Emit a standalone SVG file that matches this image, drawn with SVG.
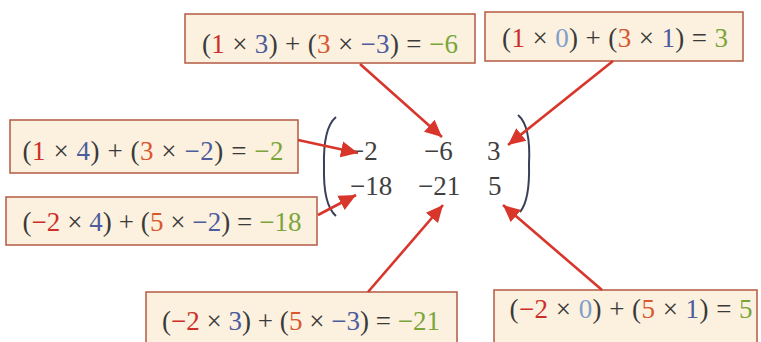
<svg xmlns="http://www.w3.org/2000/svg" width="761" height="342" viewBox="0 0 761 342">
<style>
.box{fill:#fcf1df;stroke:#b8634d;stroke-width:1.6}
.eq{font-family:"Liberation Serif","Times New Roman",serif;font-size:27px;fill:#3a3a3a;text-anchor:middle}
.m{font-family:"Liberation Serif","Times New Roman",serif;font-size:27px;fill:#404040}
.r{fill:#cc2f2a}
.b{fill:#4d5c9c}
.lb{fill:#7f9fcc}
.o{fill:#d9582f}
.g{fill:#7aa53a}
.br{fill:none;stroke:#3b405a;stroke-width:2}
.arr{stroke:#d8352b;stroke-width:2.6;fill:none;marker-end:url(#ah)}
</style>
<defs>
<marker id="ah" markerUnits="userSpaceOnUse" markerWidth="18" markerHeight="18" viewBox="0 0 18 18" refX="17" refY="9" orient="auto">
<path d="M0,1 L17,9 L0,17 Z" fill="#d8352b"/>
</marker>
</defs>
<rect width="761" height="342" fill="#ffffff"/>

<g id="matrix">
<path class="br" d="M336,117 Q323,128 324,166 Q323,205 336,216"/>
<path class="br" d="M518,115 Q531,126 529,164 Q530,200 520,212"/>
<text class="m" x="349" y="160">−2</text>
<text class="m" x="424" y="160">−6</text>
<text class="m" x="487" y="160">3</text>
<text class="m" x="350" y="195">−18</text>
<text class="m" x="418" y="195">−21</text>
<text class="m" x="488" y="195">5</text>
</g>

<g id="box-tm">
<rect class="box" x="185" y="14" width="290" height="49"/>
<text class="eq" x="330" y="53" textLength="256" lengthAdjust="spacing">(<tspan class="r">1</tspan> × <tspan class="b">3</tspan>) + (<tspan class="o">3</tspan> × <tspan class="b">−3</tspan>) = <tspan class="g">−6</tspan></text>
</g>

<g id="box-tr">
<rect class="box" x="485" y="12" width="258" height="49"/>
<text class="eq" x="615" y="47" textLength="226" lengthAdjust="spacing">(<tspan class="r">1</tspan> × <tspan class="lb">0</tspan>) + (<tspan class="o">3</tspan> × <tspan class="b">1</tspan>) = <tspan class="g">3</tspan></text>
</g>

<g id="box-ml">
<rect class="box" x="10" y="120" width="288" height="53"/>
<text class="eq" x="153" y="160" textLength="261" lengthAdjust="spacing">(<tspan class="r">1</tspan> × <tspan class="b">4</tspan>) + (<tspan class="o">3</tspan> × <tspan class="b">−2</tspan>) = <tspan class="g">−2</tspan></text>
</g>

<g id="box-bl">
<rect class="box" x="6" y="197" width="311" height="48"/>
<text class="eq" x="162" y="231" textLength="279" lengthAdjust="spacing">(<tspan class="r">−2</tspan> × <tspan class="b">4</tspan>) + (<tspan class="o">5</tspan> × <tspan class="b">−2</tspan>) = <tspan class="g">−18</tspan></text>
</g>

<g id="box-bm">
<rect class="box" x="146" y="292" width="311" height="52"/>
<text class="eq" x="301" y="330" textLength="278" lengthAdjust="spacing">(<tspan class="r">−2</tspan> × <tspan class="b">3</tspan>) + (<tspan class="o">5</tspan> × <tspan class="b">−3</tspan>) = <tspan class="g">−21</tspan></text>
</g>

<g id="box-br">
<rect class="box" x="494" y="290" width="263" height="54"/>
<text class="eq" x="631" y="318" textLength="243" lengthAdjust="spacing">(<tspan class="r">−2</tspan> × <tspan class="lb">0</tspan>) + (<tspan class="o">5</tspan> × <tspan class="b">1</tspan>) = <tspan class="g">5</tspan></text>
</g>

<g id="connectors">
<line class="arr" x1="360" y1="64" x2="442" y2="137"/>
<line class="arr" x1="613" y1="61" x2="508" y2="145"/>
<line class="arr" x1="298" y1="140" x2="358" y2="153"/>
<line class="arr" x1="318" y1="215" x2="356" y2="195"/>
<line class="arr" x1="368" y1="292" x2="443" y2="205"/>
<line class="arr" x1="602" y1="290" x2="503" y2="205"/>
</g>
</svg>
